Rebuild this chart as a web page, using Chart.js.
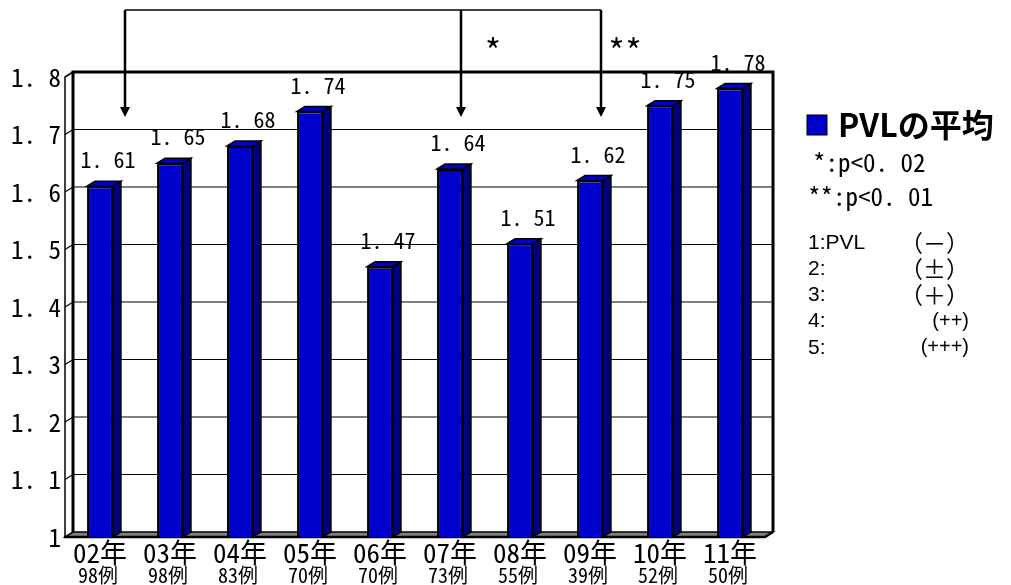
<!DOCTYPE html>
<html>
<head>
<meta charset="utf-8">
<script src="https://cdn.jsdelivr.net/npm/chart.js@4.4.0/dist/chart.umd.min.js"></script>
<style>
html, body { margin: 0; padding: 0; background: #fff; }
</style>
</head>
<body>
<canvas id="myChart" width="1011" height="585"></canvas>
<script>
// データ
var categories = ['02年', '03年', '04年', '05年', '06年', '07年', '08年', '09年', '10年', '11年'];
var caseCounts = ['98例', '98例', '83例', '70例', '70例', '73例', '55例', '39例', '52例', '50例'];
var pvlMeans = [1.61, 1.65, 1.68, 1.74, 1.47, 1.64, 1.51, 1.62, 1.75, 1.78];
var yTickLabels = ['1', '1. 1', '1. 2', '1. 3', '1. 4', '1. 5', '1. 6', '1. 7', '1. 8'];
var seriesName = 'PVLの平均';
var sigNotes = ['*:p<0. 02', '**:p<0. 01'];
var gradeNames = ['1:PVL', '2:', '3:', '4:', '5:'];
var gradeSigns = ['（－）', '（±）', '（＋）', '(++)', '(+++)'];
var sigFrom = 0;          // 02年
var sigTo = [5, 7];       // 07年, 09年
var sigMarks = ['*', '**'];

var MONO = '"Noto Sans Mono CJK JP", "Noto Sans CJK JP", "DejaVu Sans Mono", monospace';
var GOTHIC = '"Noto Sans CJK JP", sans-serif';
var DX = 8, DY = 5; // 奥行き

// 背面の壁・床・グリッド
var wallPlugin = {
    id: 'wall3d',
    beforeDatasetsDraw: function (chart) {
        var ctx = chart.ctx, a = chart.chartArea, ys = chart.scales.y;
        var bl = a.left + DX, br = a.right + DX;
        var top = ys.getPixelForValue(1.8), bot = ys.getPixelForValue(1);
        ctx.save();
        ctx.strokeStyle = '#000';
        // 床
        ctx.fillStyle = '#808080';
        ctx.beginPath();
        ctx.moveTo(a.left, bot);
        ctx.lineTo(a.right, bot);
        ctx.lineTo(br, bot - DY);
        ctx.lineTo(bl, bot - DY);
        ctx.closePath();
        ctx.fill();
        ctx.lineWidth = 1.5;
        ctx.stroke();
        // グリッド
        ctx.lineWidth = 1.2;
        for (var v = 1.1; v < 1.75; v += 0.1) {
            var py = ys.getPixelForValue(v);
            ctx.beginPath();
            ctx.moveTo(a.left, py);
            ctx.lineTo(bl, py - DY);
            ctx.lineTo(br, py - DY);
            ctx.stroke();
        }
        // 左の壁
        ctx.lineWidth = 1.5;
        ctx.beginPath();
        ctx.moveTo(a.left, bot);
        ctx.lineTo(a.left, top);
        ctx.lineTo(bl, top - DY);
        ctx.stroke();
        ctx.lineWidth = 3;
        ctx.beginPath();
        ctx.moveTo(bl, bot - DY);
        ctx.lineTo(bl, top - DY);
        ctx.lineTo(br, top - DY);
        ctx.lineTo(br, bot - DY);
        ctx.stroke();
        ctx.lineWidth = 2.5;
        ctx.beginPath();
        ctx.moveTo(a.left - 1, bot);
        ctx.lineTo(a.right, bot);
        ctx.lineTo(br, bot - DY);
        ctx.stroke();
        ctx.restore();
    }
};

// 棒の側面・上面と数値ラベル
var barPlugin = {
    id: 'bar3d',
    afterDatasetsDraw: function (chart) {
        var ctx = chart.ctx;
        var meta = chart.getDatasetMeta(0);
        ctx.save();
        ctx.strokeStyle = '#000';
        ctx.lineWidth = 1.5;
        meta.data.forEach(function (bar, i) {
            var p = bar.getProps(['x', 'y', 'base', 'width'], true);
            var x1 = p.x - p.width / 2, x2 = p.x + p.width / 2;
            ctx.fillStyle = '#000080';
            ctx.beginPath();
            ctx.moveTo(x2, p.y);
            ctx.lineTo(x2 + DX, p.y - DY);
            ctx.lineTo(x2 + DX, p.base - DY);
            ctx.lineTo(x2, p.base);
            ctx.closePath();
            ctx.fill();
            ctx.stroke();
            ctx.fillStyle = '#0000cc';
            ctx.beginPath();
            ctx.moveTo(x1, p.y);
            ctx.lineTo(x1 + DX, p.y - DY);
            ctx.lineTo(x2 + DX, p.y - DY);
            ctx.lineTo(x2, p.y);
            ctx.closePath();
            ctx.fill();
            ctx.stroke();

            ctx.fillStyle = '#000';
            ctx.font = '22px ' + MONO;
            ctx.textAlign = 'center';
            ctx.textBaseline = 'alphabetic';
            ctx.fillText(pvlMeans[i].toFixed(2).replace('.', '. '), p.x + DX, p.y - 18);
        });
        ctx.restore();
    }
};

// 有意差の矢印・凡例・症例数
var notePlugin = {
    id: 'notes',
    afterDraw: function (chart) {
        var ctx = chart.ctx, a = chart.chartArea, xs = chart.scales.x, ys = chart.scales.y;
        ctx.save();
        ctx.fillStyle = '#000';

        // 症例数
        ctx.font = '20px ' + MONO;
        ctx.textAlign = 'center';
        ctx.textBaseline = 'bottom';
        caseCounts.forEach(function (c, i) {
            ctx.fillText(c, xs.getPixelForValue(i) - 2, a.bottom + 48);
        });

        // 矢印
        var topY = a.top - 67;
        var tipY = ys.getPixelForValue(1.8) + 40;
        var fromX = xs.getPixelForValue(sigFrom) + 25;
        var toXs = sigTo.map(function (i) { return xs.getPixelForValue(i) + 11; });
        ctx.strokeStyle = '#000';
        ctx.lineWidth = 1.5;
        ctx.beginPath();
        ctx.moveTo(fromX, topY);
        ctx.lineTo(Math.max.apply(null, toXs), topY);
        ctx.stroke();
        [fromX].concat(toXs).forEach(function (x) {
            ctx.lineWidth = 2.5;
            ctx.beginPath();
            ctx.moveTo(x, topY);
            ctx.lineTo(x, tipY - 9);
            ctx.stroke();
            ctx.beginPath();
            ctx.moveTo(x - 5, tipY - 10);
            ctx.lineTo(x + 5, tipY - 10);
            ctx.lineTo(x, tipY);
            ctx.closePath();
            ctx.fill();
        });
        ctx.font = '34px ' + MONO;
        ctx.textAlign = 'center';
        ctx.textBaseline = 'middle';
        toXs.forEach(function (x, k) {
            ctx.fillText(sigMarks[k], x + 32 - k * 8, topY + 41);
        });

        // 凡例
        var lx = a.right + 42;
        ctx.fillStyle = '#0000cc';
        ctx.fillRect(lx, 115, 20, 20);
        ctx.strokeStyle = '#000';
        ctx.lineWidth = 1;
        ctx.strokeRect(lx, 115, 20, 20);
        ctx.fillStyle = '#000';
        ctx.textAlign = 'left';
        ctx.font = 'bold 32px ' + GOTHIC;
        ctx.fillText(seriesName, lx + 31, 125);

        ctx.font = '25px ' + MONO;
        sigNotes.forEach(function (t, k) {
            ctx.fillText(t, lx + 6 - k * 5, 162 + k * 34);
        });

        gradeNames.forEach(function (t, k) {
            var gy = 243 + k * 26.2;
            ctx.textAlign = 'left';
            ctx.font = '21px "Liberation Sans", Arial, sans-serif';
            ctx.fillText(t, lx + 1, gy);
            ctx.textAlign = 'right';
            ctx.font = (k < 3 ? '23px ' + GOTHIC : '20px "Liberation Sans", Arial, sans-serif');
            ctx.fillText(gradeSigns[k], lx + 162, gy);
        });
        ctx.restore();
    }
};

var ctx = document.getElementById('myChart').getContext('2d');
var myChart = new Chart(ctx, {
    type: 'bar',
    data: {
        labels: categories,
        datasets: [{
            label: seriesName,
            data: pvlMeans,
            base: 1,
            backgroundColor: '#0000cc',
            borderColor: '#000',
            borderWidth: 2,
            categoryPercentage: 1,
            barPercentage: 0.37
        }]
    },
    options: {
        responsive: false,
        animation: false,
        devicePixelRatio: 1,
        layout: {
            padding: { top: 77, right: 246, left: 0, bottom: 0 }
        },
        scales: {
            y: {
                min: 1,
                max: 1.8,
                border: { display: false },
                grid: { display: false, drawTicks: false, tickLength: 0 },
                ticks: {
                    stepSize: 0.1,
                    padding: 4,
                    color: '#000',
                    font: { family: MONO, size: 25 },
                    callback: function (value, index) {
                        return yTickLabels[index];
                    }
                },
                afterFit: function (scale) { scale.width = 65; }
            },
            x: {
                border: { display: false },
                grid: { display: false, drawTicks: false, tickLength: 0 },
                ticks: {
                    padding: 0,
                    color: '#000',
                    maxRotation: 0,
                    autoSkip: false,
                    font: { family: MONO, size: 27 }
                },
                afterFit: function (scale) { scale.height = 48; }
            }
        },
        plugins: {
            legend: { display: false },
            tooltip: { enabled: false }
        }
    },
    plugins: [wallPlugin, barPlugin, notePlugin]
});
</script>
</body>
</html>
